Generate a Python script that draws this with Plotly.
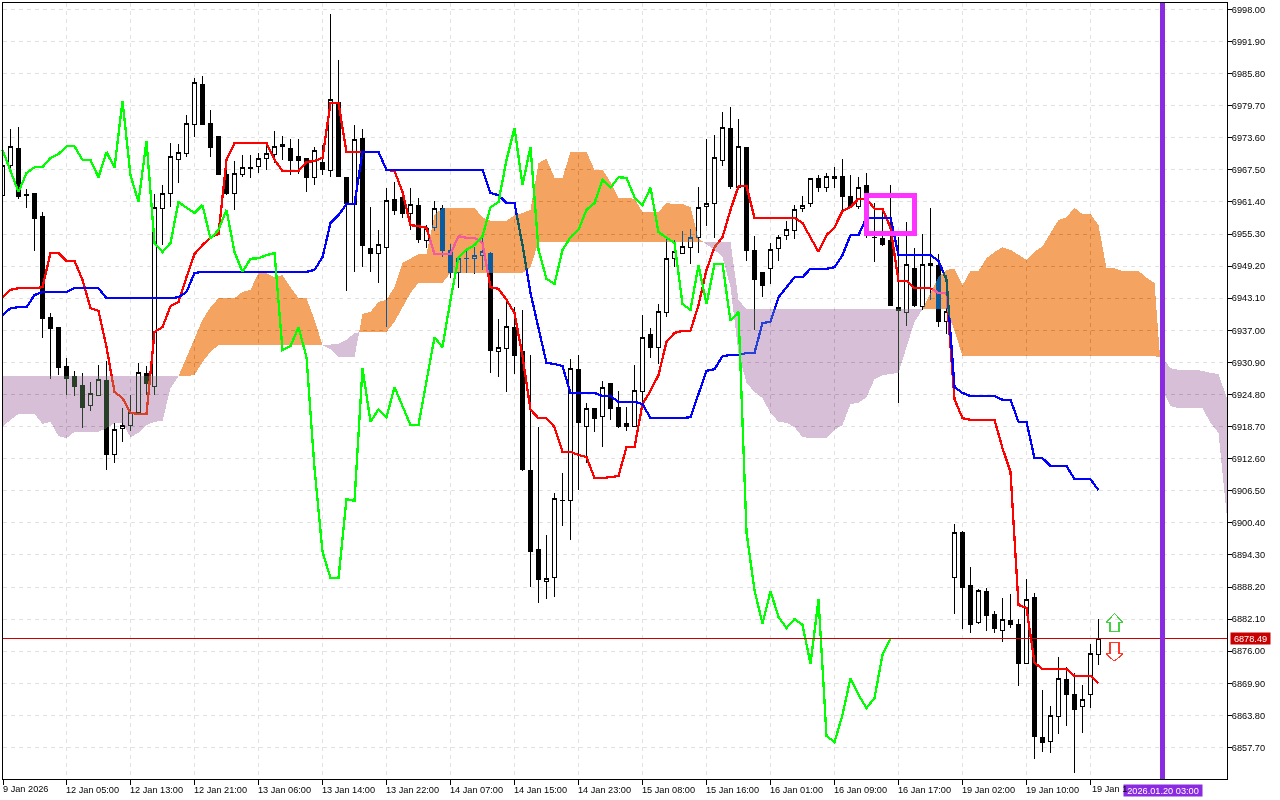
import plotly.graph_objects as go

# ---------- candles ----------
opens = [
6962.6,6968.4,6971.5,6962.9,6963.1,6958.7,6939.5,6937.6,6930.2,6928.3,
6926.6,6922.8,6924.7,6927.4,6913.3,6918.4,6919.0,6921.3,6928.7,6926.4,
6960.1,6963.1,6969.4,6970.7,6976.2,6983.8,6976.4,6973.8,6966.7,6963.1,
6966.7,6968.0,6968.2,6969.6,6970.5,6972.4,6971.5,6970.0,6969.6,6966.1,
6969.0,6967.3,6980.4,6966.1,6961.0,6973.4,6952.6,6951.7,6952.8,6961.8,
6962.2,6959.3,6960.8,6954.0,6956.5,6960.1,6952.1,6947.9,6950.7,6950.6,
6951.3,6951.7,6932.9,6933.6,6937.6,6932.9,6910.4,6895.4,6889.3,6890.1,
6904.7,6904.7,6929.6,6918.8,6922.2,6920.7,6926.8,6922.4,6919.2,6918.8,
6925.3,6936.3,6933.8,6940.3,6950.6,6951.7,6952.8,6954.7,6960.6,6961.2,
6969.2,6975.3,6964.1,6971.7,6952.1,6947.9,6948.7,6952.5,6955.1,6955.9,
6960.1,6961.2,6965.8,6964.2,6966.3,6966.3,6962.5,6960.6,6964.6,6954.7,
6954.4,6954.0,6941.4,6940.3,6948.8,6941.6,6949.4,6949.4,6938.6,6890.1,
6898.5,6888.4,6881.4,6887.4,6882.9,6880.0,6881.9,6881.0,6873.6,6886.3,
6859.5,6858.9,6863.5,6870.7,6867.7,6865.4,6867.7,6875.3]
highs = [
6975.7,6975.3,6975.7,6963.9,6963.1,6959.5,6940.3,6937.6,6931.7,6929.3,
6928.9,6927.2,6930.4,6931.2,6919.4,6922.2,6924.7,6930.8,6930.2,6962.9,
6964.6,6972.6,6972.4,6977.9,6985.0,6985.4,6978.9,6973.8,6967.5,6969.2,
6970.3,6970.3,6970.7,6972.2,6974.9,6973.9,6973.4,6973.4,6969.6,6971.9,
6972.2,6997.1,6988.4,6966.1,6976.0,6975.3,6960.4,6956.1,6964.1,6965.2,
6962.3,6964.1,6962.2,6957.0,6961.6,6960.8,6953.4,6950.9,6952.6,6952.8,
6955.7,6951.9,6939.2,6942.8,6941.4,6940.9,6932.3,6918.6,6898.1,6906.1,
6909.9,6931.5,6932.3,6923.2,6922.2,6927.4,6927.0,6925.5,6922.4,6930.4,
6939.9,6937.4,6942.0,6954.6,6954.2,6955.9,6956.3,6964.2,6973.4,6974.1,
6978.5,6979.5,6977.2,6971.7,6954.9,6947.9,6953.6,6955.1,6957.8,6960.8,
6962.5,6965.8,6966.5,6966.9,6968.0,6969.6,6966.5,6966.1,6966.9,6961.2,
6959.9,6964.6,6954.7,6957.6,6952.6,6955.3,6960.3,6951.5,6947.5,6900.2,
6898.9,6892.0,6887.8,6888.0,6883.6,6886.1,6886.9,6882.1,6889.7,6887.1,
6868.6,6865.6,6874.9,6873.0,6871.9,6869.6,6877.4,6882.1]
lows = [
6962.3,6967.5,6962.0,6960.3,6952.1,6935.5,6927.7,6928.5,6924.7,6924.5,
6918.4,6921.7,6924.7,6910.4,6911.8,6915.8,6917.9,6921.1,6924.7,6924.7,
6953.2,6960.4,6965.0,6970.0,6973.8,6976.0,6970.0,6966.5,6962.7,6959.9,
6966.1,6966.0,6966.9,6967.5,6968.8,6969.4,6966.5,6966.7,6963.3,6964.6,
6966.5,6966.1,6966.1,6944.5,6948.1,6949.0,6948.1,6946.0,6937.6,6958.9,
6958.4,6956.1,6953.6,6952.6,6955.9,6950.9,6946.9,6945.0,6947.9,6947.7,
6948.5,6928.9,6928.1,6925.3,6928.7,6910.3,6888.2,6885.2,6885.9,6886.3,
6899.8,6897.1,6906.6,6911.8,6917.7,6914.8,6920.0,6918.4,6917.9,6918.8,
6923.2,6931.7,6930.6,6939.5,6949.0,6951.7,6949.6,6951.7,6956.8,6954.6,
6968.2,6963.9,6963.7,6950.2,6937.1,6943.3,6945.8,6950.2,6954.2,6954.4,
6959.5,6960.4,6963.3,6963.3,6964.1,6959.9,6960.3,6960.1,6954.6,6950.0,
6953.0,6941.6,6923.2,6937.8,6941.4,6940.9,6942.8,6937.6,6936.3,6883.1,
6880.2,6879.5,6881.2,6879.8,6879.5,6877.7,6880.4,6869.4,6873.6,6855.5,
6856.8,6856.6,6860.3,6861.8,6852.8,6860.5,6865.2,6873.4]
closes = [
6968.3,6971.9,6962.5,6962.7,6958.2,6939.2,6937.4,6930.0,6927.9,6926.4,
6922.4,6924.9,6927.7,6913.3,6918.2,6919.0,6921.3,6928.9,6926.8,6960.4,
6963.1,6970.0,6970.9,6976.4,6984.2,6976.2,6971.7,6966.7,6963.1,6966.9,
6968.0,6967.7,6969.6,6970.7,6972.0,6972.0,6969.2,6969.2,6966.0,6971.1,
6967.5,6980.8,6966.3,6961.2,6973.2,6953.2,6951.7,6953.4,6961.6,6959.7,
6959.3,6961.0,6954.2,6956.3,6960.1,6952.1,6947.9,6950.6,6950.6,6951.3,
6951.9,6933.1,6933.8,6937.8,6932.3,6910.6,6894.9,6889.7,6889.9,6905.1,
6904.6,6929.8,6919.4,6922.2,6920.3,6926.2,6922.2,6918.8,6918.8,6925.5,
6935.7,6933.8,6940.5,6950.7,6951.9,6953.0,6954.7,6960.4,6961.2,6969.8,
6975.5,6964.4,6971.9,6952.1,6946.6,6945.6,6952.3,6954.6,6956.1,6959.9,
6960.8,6965.8,6964.1,6966.3,6965.8,6962.5,6960.6,6964.2,6963.1,6954.6,
6953.4,6941.8,6940.7,6949.6,6941.8,6949.6,6949.8,6938.6,6940.5,6898.6,
6888.2,6881.0,6887.6,6882.7,6880.4,6882.1,6881.0,6873.6,6885.9,6859.7,
6858.7,6863.7,6870.9,6867.7,6865.0,6866.9,6875.5,6878.49]

# ---------- Ichimoku lines ----------
tenkan = [
6943.3,6944.7,6945.0,6945.0,6945.0,6945.2,6951.7,6951.7,6950.2,6950.2,
6946.6,6941.2,6940.7,6933.8,6925.3,6924.1,6921.3,6921.1,6921.1,6936.7,
6937.6,6941.6,6942.4,6947.1,6951.5,6953.2,6954.7,6955.3,6969.4,6972.6,
6972.6,6972.6,6972.6,6972.6,6969.4,6967.3,6967.3,6967.3,6969.0,6969.2,
6969.8,6980.2,6980.2,6970.9,6970.9,6970.9,6970.9,6970.9,6967.5,6967.3,
6963.3,6957.0,6956.8,6956.5,6951.5,6951.5,6951.5,6954.9,6954.6,6954.6,
6953.6,6945.2,6944.9,6942.8,6940.3,6932.1,6921.9,6920.3,6920.3,6918.6,
6913.9,6913.9,6913.3,6912.9,6908.9,6908.9,6909.1,6909.3,6914.8,6914.8,
6923.0,6925.5,6928.5,6934.8,6936.5,6936.9,6936.9,6941.8,6948.5,6952.8,
6954.7,6959.9,6964.4,6964.4,6958.4,6958.4,6958.4,6958.4,6958.4,6958.4,
6957.4,6954.6,6951.9,6955.1,6956.6,6959.7,6960.4,6962.0,6962.0,6960.1,
6960.1,6956.5,6946.4,6946.4,6945.0,6945.0,6945.0,6944.1,6944.1,6923.9,
6920.3,6920.0,6920.0,6920.0,6920.0,6914.6,6910.1,6884.8,6884.2,6873.8,
6872.6,6872.6,6872.6,6872.6,6871.3,6871.3,6871.3,6869.9]
kijun = [
6939.9,6941.2,6941.4,6941.4,6943.7,6944.3,6944.3,6944.3,6944.3,6945.0,
6945.0,6945.0,6945.0,6943.1,6943.1,6943.1,6943.1,6943.1,6943.1,6943.1,
6943.1,6943.1,6943.3,6944.3,6947.9,6948.1,6948.1,6948.1,6948.1,6948.1,
6948.1,6948.1,6948.1,6948.1,6948.1,6948.1,6948.1,6948.1,6948.1,6948.5,
6950.9,6957.4,6958.9,6961.0,6961.0,6970.9,6970.9,6970.9,6967.5,6967.5,
6967.5,6967.5,6967.5,6967.5,6967.5,6967.5,6967.5,6967.5,6967.5,6967.5,
6967.5,6963.1,6962.7,6961.2,6961.2,6953.2,6944.1,6937.4,6930.8,6930.6,
6930.2,6925.1,6925.1,6925.1,6925.1,6924.5,6924.5,6923.4,6923.4,6923.4,
6923.0,6920.3,6920.3,6920.3,6920.3,6920.3,6920.5,6925.1,6929.3,6929.6,
6932.1,6932.3,6932.3,6932.7,6932.7,6938.4,6938.6,6943.3,6945.2,6947.1,
6947.1,6948.7,6948.7,6948.7,6949.0,6951.3,6955.1,6955.1,6958.4,6958.4,
6958.4,6958.4,6951.3,6951.3,6951.3,6951.3,6951.3,6950.2,6946.6,6926.2,
6925.1,6924.5,6924.5,6924.5,6924.5,6923.8,6923.8,6919.6,6919.6,6912.7,
6912.7,6911.2,6911.2,6911.2,6908.7,6908.7,6908.7,6906.6]
chikou = [
6971.3,6967.1,6963.3,6966.9,6968.0,6968.0,6969.8,6970.5,6972.0,6972.0,
6969.4,6969.4,6966.1,6970.9,6967.9,6980.6,6966.5,6961.4,6973.0,6953.6,
6951.9,6953.6,6961.4,6960.3,6959.3,6960.8,6954.4,6956.1,6959.9,6951.9,
6948.1,6950.6,6950.7,6951.3,6951.7,6933.3,6934.0,6937.6,6931.9,6910.8,
6894.9,6889.9,6889.9,6904.9,6904.6,6929.8,6919.6,6922.0,6920.5,6926.2,
6922.6,6919.0,6919.0,6927.6,6935.7,6933.8,6942.8,6950.9,6952.3,6953.2,
6954.9,6960.4,6961.4,6969.4,6975.5,6964.6,6971.9,6952.3,6946.8,6945.8,
6952.3,6954.7,6956.1,6959.9,6961.2,6965.6,6964.1,6966.1,6966.0,6962.3,
6960.8,6964.1,6955.7,6954.6,6953.6,6942.0,6940.9,6949.4,6942.0,6949.6,
6949.6,6938.8,6940.5,6898.6,6887.6,6881.2,6887.4,6882.5,6880.4,6882.1,
6881.0,6873.6,6885.9,6859.9,6858.7,6863.9,6870.9,6867.7,6865.2,6867.1,
6875.3,6878.5]
span_a = [
6918.6,6920.0,6921.1,6921.1,6921.1,6919.2,6919.6,6916.9,6916.5,6917.7,
6917.7,6917.7,6917.7,6918.4,6919.4,6919.4,6916.7,6917.5,6919.0,6919.6,
6919.8,6926.0,6928.3,6931.9,6935.7,6939.0,6941.4,6943.1,6943.1,6943.1,
6944.3,6944.7,6947.9,6947.9,6947.1,6947.5,6945.2,6943.1,6943.1,6939.0,
6934.2,6933.4,6931.9,6931.9,6931.9,6940.1,6940.5,6942.4,6942.8,6945.2,
6949.8,6950.7,6951.5,6951.5,6958.9,6960.3,6960.3,6960.3,6960.3,6960.3,
6958.5,6957.8,6957.8,6957.8,6958.9,6959.3,6959.9,6968.8,6969.6,6966.0,
6966.0,6970.9,6970.9,6970.9,6967.5,6967.5,6965.2,6962.2,6962.2,6962.0,
6959.5,6959.5,6959.5,6961.2,6961.0,6961.0,6960.4,6954.4,6953.4,6952.3,
6951.0,6945.2,6932.7,6927.0,6925.3,6924.1,6921.3,6919.6,6919.4,6918.6,
6916.7,6916.5,6916.5,6916.5,6918.1,6919.0,6923.0,6923.2,6924.3,6927.7,
6928.5,6928.7,6928.9,6933.8,6938.6,6941.0,6944.1,6947.1,6948.5,6948.7,
6945.6,6948.3,6948.3,6950.7,6951.9,6952.8,6952.3,6951.3,6950.4,6951.9,
6953.0,6955.5,6958.0,6958.5,6960.3,6959.1,6959.1,6957.0,6948.8,6948.8,
6948.3,6948.3,6948.3,6947.0,6946.0,6925.7,6922.6,6922.2,6922.2,6922.2,
6922.2,6919.4,6917.5,6902.3]
span_b = [
6928.3,6928.3,6928.3,6928.3,6928.3,6928.3,6928.3,6928.3,6928.3,6928.3,
6928.3,6928.3,6928.3,6928.3,6928.3,6928.3,6928.3,6928.3,6928.3,6928.3,
6928.3,6928.3,6928.3,6928.3,6928.5,6931.0,6932.9,6934.2,6934.2,6934.2,
6934.2,6934.2,6934.2,6934.2,6934.2,6934.2,6934.2,6934.2,6934.2,6934.2,
6934.2,6934.3,6934.4,6935.2,6936.5,6936.7,6936.7,6936.7,6936.7,6938.6,
6941.4,6944.1,6946.0,6946.0,6946.0,6946.0,6947.9,6947.9,6947.9,6947.9,
6947.9,6947.9,6947.9,6947.9,6947.9,6947.9,6949.0,6953.8,6953.8,6953.8,
6953.8,6953.8,6953.8,6953.8,6953.8,6953.8,6953.8,6953.8,6953.8,6953.8,
6953.8,6953.8,6953.8,6953.8,6953.8,6953.8,6953.8,6953.8,6953.8,6953.8,
6953.8,6953.8,6942.8,6941.0,6941.0,6941.0,6941.0,6941.0,6941.0,6941.0,
6941.0,6941.0,6941.0,6941.0,6941.0,6941.0,6941.0,6941.0,6941.0,6941.0,
6941.0,6941.0,6941.0,6941.0,6941.0,6941.0,6941.0,6941.0,6941.0,6936.9,
6932.1,6932.1,6932.1,6932.1,6932.1,6932.1,6932.1,6932.1,6932.1,6932.1,
6932.1,6932.1,6932.1,6932.1,6932.1,6932.1,6932.1,6932.1,6932.1,6932.1,
6932.1,6932.1,6932.1,6932.1,6932.1,6931.7,6929.8,6929.5,6929.5,6929.5,
6929.3,6928.9,6928.7,6924.3]

# ---------- axes ----------
x_tick_bars = [0.07,8,16,24,32,40,48,56,64,72,80,88,96,104,112,120,128,136]
x_tick_labels = ["","12 Jan 05:00","12 Jan 13:00","12 Jan 21:00","13 Jan 06:00",
                 "13 Jan 14:00","13 Jan 22:00","14 Jan 07:00","14 Jan 15:00","14 Jan 23:00",
                 "15 Jan 08:00","15 Jan 16:00","16 Jan 01:00","16 Jan 09:00","16 Jan 17:00",
                 "19 Jan 02:00","19 Jan 10:00",""]
first_label = "9 Jan 2026"
last_label = "19 Jan 1"
y_ticks = [6998.0,6991.9,6985.8,6979.7,6973.6,6967.5,6961.4,6955.3,6949.2,6943.1,6937.0,6930.9,
           6924.8,6918.7,6912.6,6906.5,6900.4,6894.3,6888.2,6882.1,6876.0,6869.9,6863.8,6857.7]
y_tick_labels = ["%.2f" % v for v in y_ticks]

bid_price = 6878.49
future_bar = 145
future_label = "2026.01.20 03:00"
box_bars = (108, 114)
box_prices = (6955.4, 6962.6)
up_arrow_x = [139.0,140.06,139.56,139.56,138.44,138.44,137.94,139.0]
up_arrow_y = [6883.2,6881.4,6881.4,6879.7,6879.7,6881.4,6881.4,6883.2]
down_arrow_x = [139.0,140.06,139.56,139.56,138.44,138.44,137.94,139.0]
down_arrow_y = [6874.1,6875.5,6875.5,6877.7,6877.7,6875.5,6875.5,6874.1]

# ---------- colours ----------
FONT = "Liberation Sans"
FONT_SIZE = 9.2
# the cloud is painted in "difference" mode, so these are the complements of sandybrown / thistle
BULL_INK = "#0B5B9F"
BEAR_INK = "#274027"
GRID = "#E2E2E2"
LINE_W = 2.3


def cloud_polygons(sign):
    verts = []
    n = len(span_a)
    for i in range(n):
        d = span_a[i] - span_b[i]
        verts.append((i, span_a[i], span_b[i], d))
        if i < n - 1:
            dn = span_a[i + 1] - span_b[i + 1]
            if d * dn < 0:
                t = d / (d - dn)
                v = span_a[i] + t * (span_a[i + 1] - span_a[i])
                verts.append((i + t, v, v, 0.0))
    xs, ys = [], []

    def close(run):
        xs.extend([v[0] for v in run] + [v[0] for v in reversed(run)] + [None])
        ys.extend([v[1] for v in run] + [v[2] for v in reversed(run)] + [None])

    run, prev = [], None
    for v in verts:
        sd = sign * v[3]
        if sd > 0:
            if not run and prev is not None and prev[3] == 0:
                run = [prev]
            run.append(v)
        else:
            if run:
                if sd == 0:
                    run.append(v)
                close(run)
            run = []
        prev = v
    if run:
        close(run)
    return xs, ys


bars = list(range(len(opens)))
fig = go.Figure()
fig.add_trace(go.Candlestick(
    x=bars, open=opens, high=highs, low=lows, close=closes,
    increasing=dict(line=dict(color="black", width=1), fillcolor="white"),
    decreasing=dict(line=dict(color="black", width=1), fillcolor="black"),
    whiskerwidth=0, hoverinfo="skip", showlegend=False, name="Price"))
fig.add_trace(go.Scatter(x=bars, y=tenkan, mode="lines", name="Tenkan-sen",
                         line=dict(color="#FF0000", width=LINE_W), hoverinfo="skip", showlegend=False))
fig.add_trace(go.Scatter(x=bars, y=kijun, mode="lines", name="Kijun-sen",
                         line=dict(color="#0000FF", width=LINE_W), hoverinfo="skip", showlegend=False))
ox, oy = cloud_polygons(1)
fig.add_trace(go.Scatter(x=ox, y=oy, mode="lines", fill="toself", fillcolor=BULL_INK, name="Cloud up",
                         line=dict(width=0, color=BULL_INK), hoverinfo="skip", showlegend=False))
px_, py_ = cloud_polygons(-1)
fig.add_trace(go.Scatter(x=px_, y=py_, mode="lines", fill="toself", fillcolor=BEAR_INK, name="Cloud down",
                         line=dict(width=0, color=BEAR_INK), hoverinfo="skip", showlegend=False))
fig.add_trace(go.Scatter(x=list(range(len(chikou))), y=chikou, mode="lines", name="Chikou",
                         line=dict(color="#00FF00", width=LINE_W), hoverinfo="skip", showlegend=False))
fig.add_trace(go.Scatter(x=up_arrow_x, y=up_arrow_y, mode="lines", name="Up arrow",
                         line=dict(color="#46D046", width=1.2), hoverinfo="skip", showlegend=False))
fig.add_trace(go.Scatter(x=down_arrow_x, y=down_arrow_y, mode="lines", name="Down arrow",
                         line=dict(color="#FF3A2A", width=1.2), hoverinfo="skip", showlegend=False))

fig.update_layout(
    width=1280, height=800, autosize=False,
    margin=dict(l=3, r=53, t=3, b=21, pad=0),
    paper_bgcolor="white", plot_bgcolor="white",
    boxgap=0.5, boxgroupgap=0, showlegend=False, dragmode=False,
    font=dict(family=FONT, size=FONT_SIZE, color="black"),
    shapes=[
        dict(type="line", xref="paper", x0=0, x1=1, yref="y", y0=bid_price, y1=bid_price,
             line=dict(color="#CC0000", width=1)),
        dict(type="line", xref="x", x0=future_bar, x1=future_bar, yref="paper", y0=0, y1=1,
             line=dict(color="#8A2BE2", width=5)),
        dict(type="rect", xref="x", x0=box_bars[0], x1=box_bars[1], yref="y",
             y0=box_prices[0], y1=box_prices[1], line=dict(color="#FF33FF", width=4.5)),
    ],
    annotations=[
        dict(text="%.2f" % bid_price, xref="paper", x=1, xanchor="left", xshift=3,
             yref="y", y=bid_price, yanchor="middle", showarrow=False,
             bgcolor="#C80000", font=dict(color="white", family=FONT, size=FONT_SIZE),
             width=39, height=11, borderpad=0),
        dict(text=future_label, xref="x", x=future_bar, xanchor="center",
             yref="paper", y=0, yanchor="top", yshift=-5, showarrow=False,
             bgcolor="#8A2BE2", font=dict(color="white", family=FONT, size=FONT_SIZE),
             borderpad=0, width=78, height=11),
        dict(text=first_label, xref="paper", x=0, xanchor="left", xshift=-1,
             yref="paper", y=0, yanchor="top", yshift=-4, showarrow=False,
             font=dict(color="black", family=FONT, size=FONT_SIZE), borderpad=0),
        dict(text=last_label, xref="x", x=136, xanchor="left",
             yref="paper", y=0, yanchor="top", yshift=-4, showarrow=False,
             font=dict(color="black", family=FONT, size=FONT_SIZE), borderpad=0),
    ],
    xaxis=dict(
        range=[0.0625, 153.0625], rangeslider=dict(visible=False),
        tickmode="array", tickvals=x_tick_bars, ticktext=x_tick_labels,
        tickangle=0, ticks="outside", ticklen=5, tickwidth=1, tickcolor="black",
        ticklabelshift=26, ticklabelstandoff=-3,
        showline=True, linecolor="black", linewidth=1, mirror=True,
        showgrid=True, gridcolor=GRID, gridwidth=1, griddash="4px,4px", zeroline=False,
        fixedrange=True),
    yaxis=dict(
        side="right", range=[6851.70, 6999.23],
        tickmode="array", tickvals=y_ticks, ticktext=y_tick_labels,
        ticks="outside", ticklen=4, tickwidth=1, tickcolor="black", ticklabelstandoff=-2,
        showline=True, linecolor="black", linewidth=1, mirror=True,
        showgrid=True, gridcolor=GRID, gridwidth=1, griddash="4px,4px", zeroline=False,
        fixedrange=True),
)

post = """
document.documentElement.style.overflow='hidden';
document.body.style.margin='0';
var root=document.querySelector('.js-plotly-plot');
root.querySelectorAll('.cartesianlayer [clip-path]').forEach(function(g){
  var sl=g.querySelector('.scatterlayer');
  if(!sl){return;}
  var c=g.getAttribute('clip-path');
  g.removeAttribute('clip-path');
  var bl=g.querySelector('.boxlayer');
  if(bl){bl.setAttribute('clip-path',c);}
});
root.querySelectorAll('.scatterlayer .trace').forEach(function(t){
  var f=t.querySelector('.fills path');
  if(f){t.style.mixBlendMode='difference';f.style.shapeRendering='crispEdges';}
  t.querySelectorAll('.js-line').forEach(function(p){p.style.shapeRendering='crispEdges';});
});
root.querySelectorAll('.shapelayer path').forEach(function(p){p.style.shapeRendering='crispEdges';});
root.querySelectorAll('.boxlayer path').forEach(function(p){p.style.shapeRendering='crispEdges';});
"""
fig.write_html("out.html", post_script=post, config={"displayModeBar": False})
